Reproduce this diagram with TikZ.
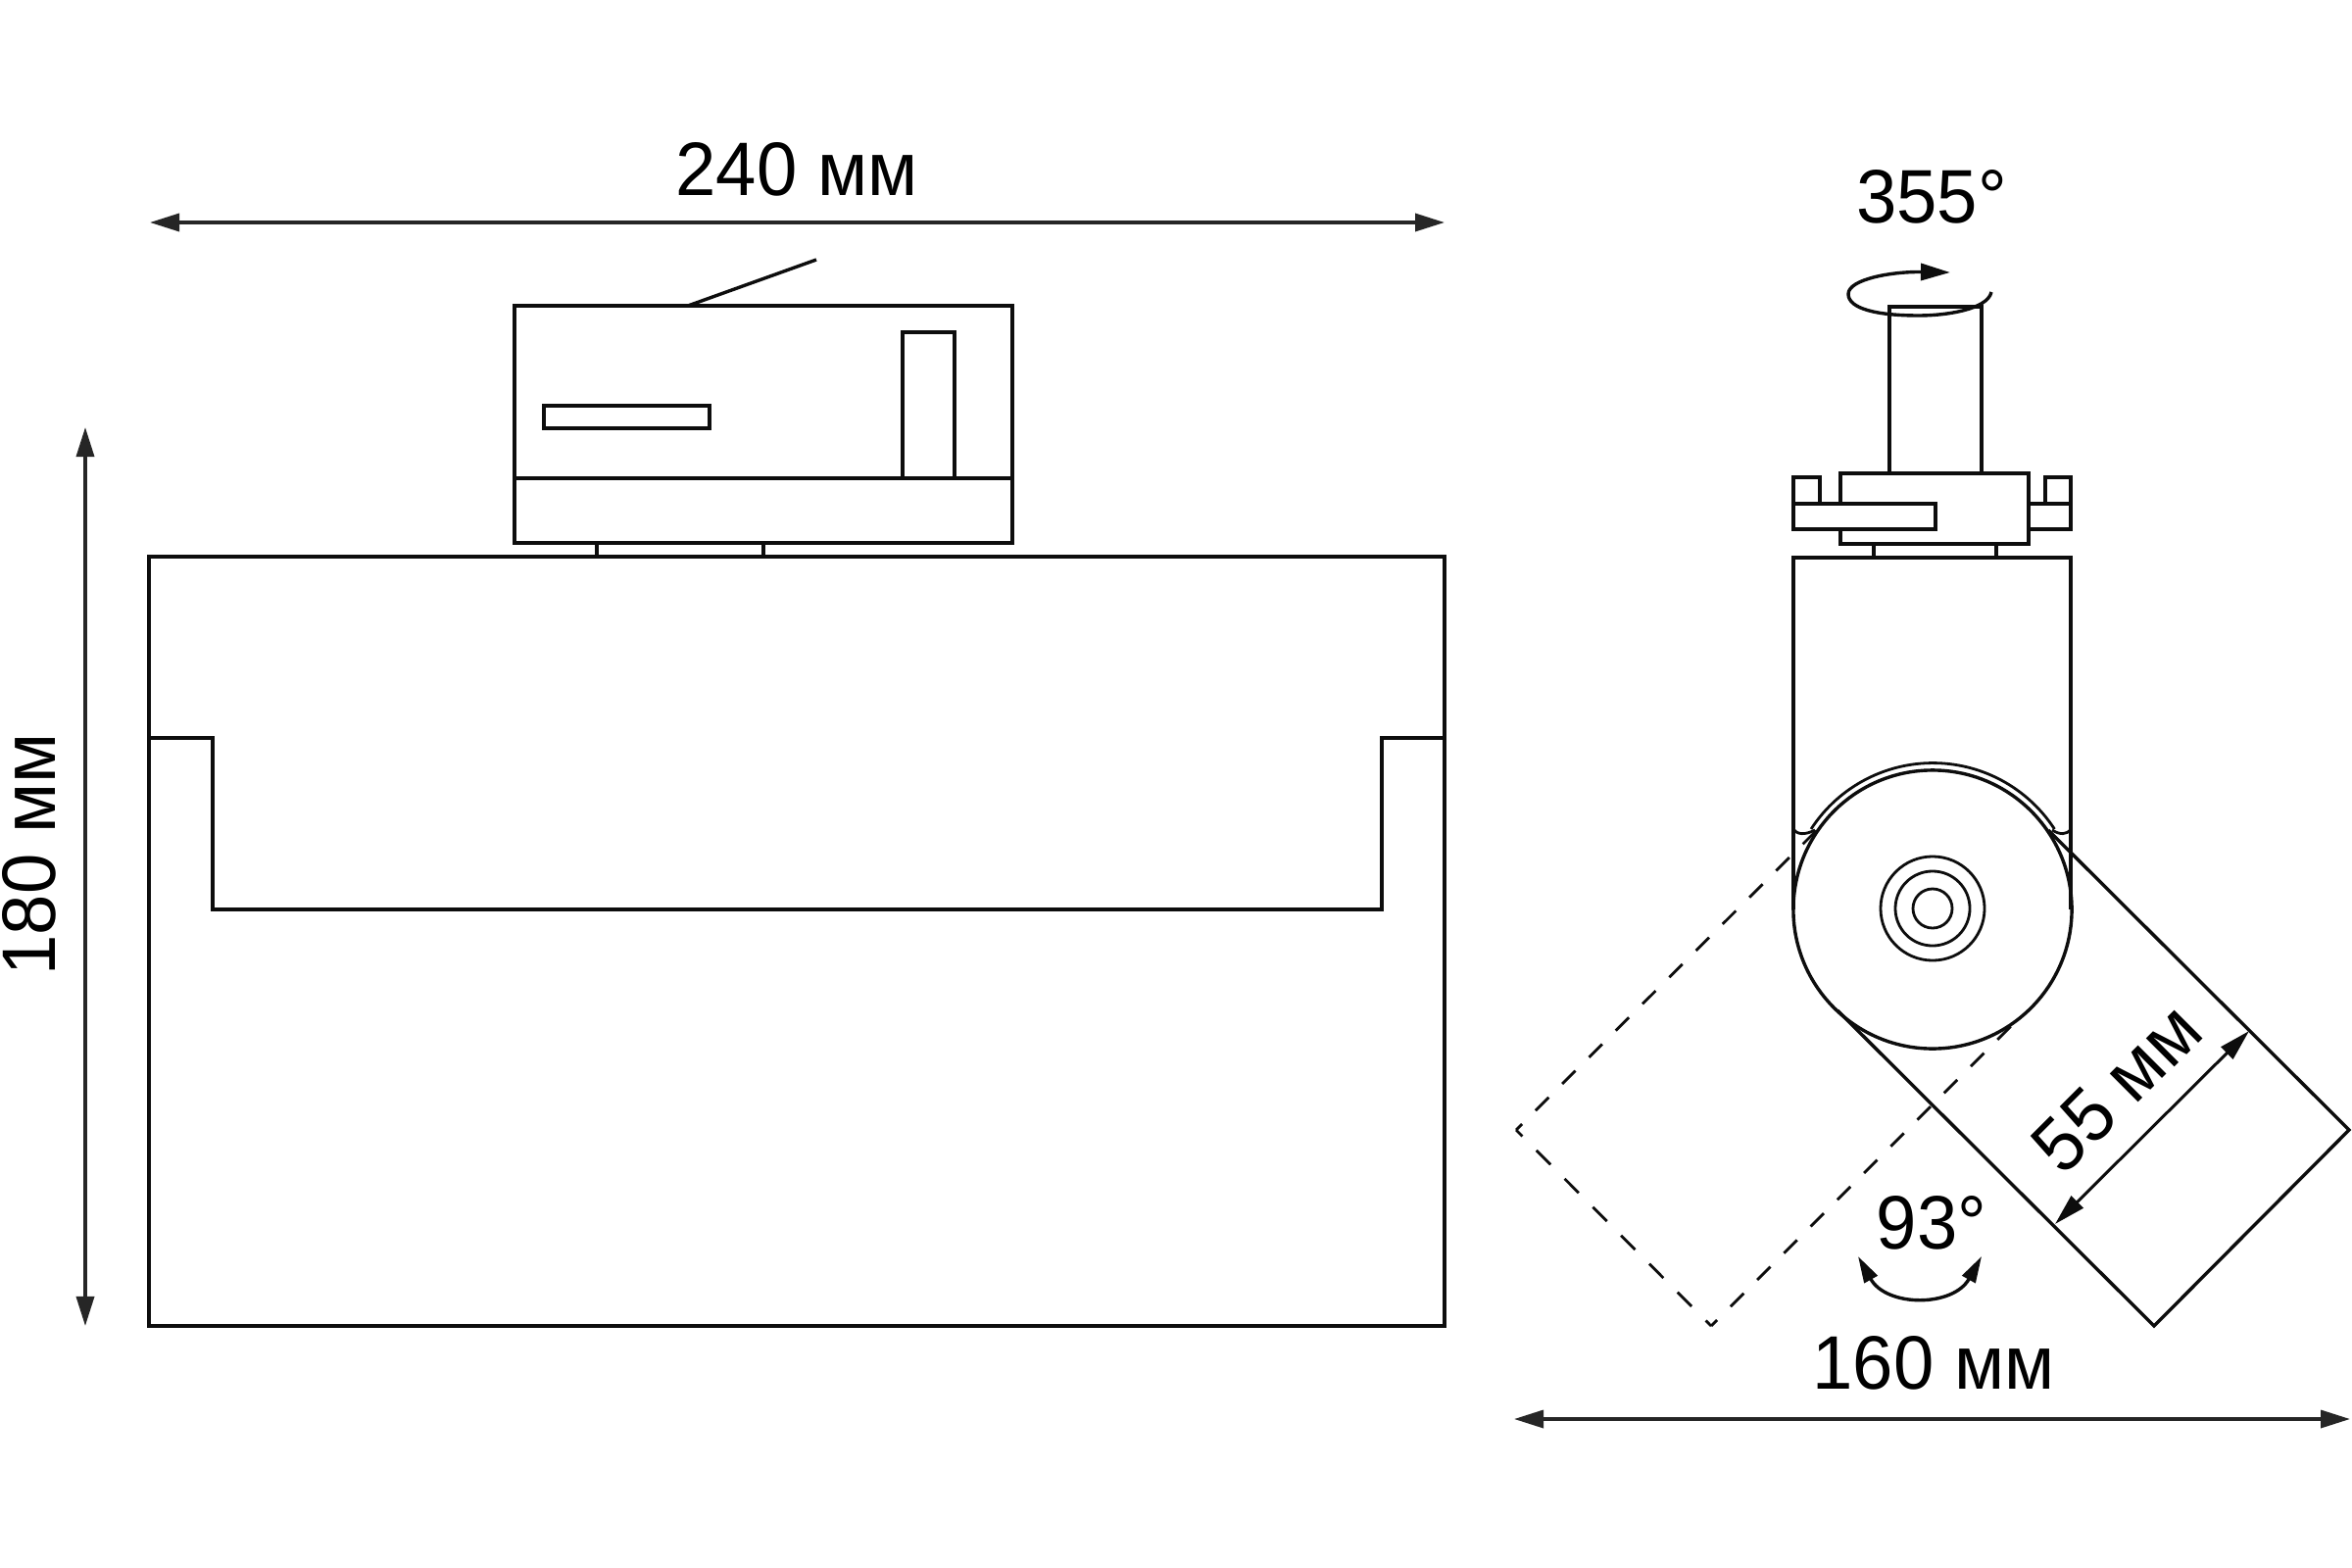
\documentclass[tikz,border=0pt]{standalone}
\usepackage{fontspec}
\setmainfont{Liberation Sans}
\usetikzlibrary{arrows.meta}
\tikzset{
  lbl/.style={font=\fontsize{22pt}{22pt}\selectfont,inner sep=0pt,text=black,xscale=0.96},
  part/.style={line width=0.034cm,draw=black!95,line join=miter},
  thin part/.style={line width=0.028cm,draw=black!95},
  hidden part/.style={line width=0.028cm,draw=black!95,dash pattern=on 0.19cm off 0.195cm,dash phase=0.105cm},
  dimline/.style={line width=0.034cm,draw=black!85,{Triangle[length=0.3cm,width=0.18cm]}-{Triangle[length=0.3cm,width=0.18cm]}},
  smalldim/.style={line width=0.03cm,draw=black!95,{Triangle[length=0.32cm,width=0.17cm]}-{Triangle[length=0.32cm,width=0.17cm]}},
}
\begin{document}
\begin{tikzpicture}[x=0.01cm,y=-0.01cm]
\useasboundingbox (0,0) rectangle (2400,1600);
\fill[white] (0,0) rectangle (2400,1600);

% --- front view ---
\draw[part] (152,568) rectangle (1474,1353);
\draw[part] (152,753) -- (217,753) -- (217,928) -- (1410,928) -- (1410,753) -- (1474,753);
\draw[part] (525,312) rectangle (1033,554);
\draw[part] (525,488) -- (1033,488);
\draw[part] (555,414) rectangle (724,437);
\draw[part] (921,488) -- (921,339) -- (974,339) -- (974,488);
\draw[part] (609,554) -- (609,568) (779,554) -- (779,568);
\draw[part] (702,312) -- (833,265);

% --- side view: top ---
\draw[part] (1928,483) -- (1928,313) -- (2022,313) -- (2022,483);
\draw[part] (1878,483) rectangle (2070,555);
\draw[part] (1830,514) -- (1830,487) -- (1857,487) -- (1857,514);
\draw[part,fill=white] (1830,514) rectangle (1975,540);
\draw[part] (2087,514) -- (2087,487) -- (2113,487) -- (2113,514);
\draw[part] (2070,514) rectangle (2113,540);
\draw[part] (1912,555) -- (1912,569) (2037,555) -- (2037,569);

% --- side view: housing ---
\draw[part] (1830,928) -- (1830,569) -- (2113,569) -- (2113,928);
\draw[thin part] (1830,846) .. controls (1834,852) and (1842,852) .. (1852,847);
\draw[thin part] (2094,847) .. controls (2102,852) and (2109,852) .. (2113,846);
\draw[part] (1972,928) circle[radius=1.42cm];
\draw[thin part] (1848,846) arc[start angle=147,end angle=33,radius=1.48cm];
\draw[thin part] (1972,927) circle[radius=0.53cm];
\draw[thin part] (1972,927) circle[radius=0.38cm];
\draw[thin part] (1972,927) circle[radius=0.20cm];

% --- side view: solid tilted head ---
\coordinate (sR) at (2397,1153);
\coordinate (sB) at (2198,1353);
\draw[part] (2090,847) -- (sR) -- (sB) -- (1875,1031);

% --- side view: dashed tilted head ---
\coordinate (dL) at (1547,1153);
\coordinate (dB) at (1746,1353);
\draw[hidden part] (dL) -- (1854,847);
\draw[hidden part] (dB) -- (2054,1045);
\draw[hidden part,dash pattern=on 0.204cm off 0.204cm,dash phase=0.114cm] (dL) -- (dB);

% --- rotation arrow ---
\coordinate (rotA) at (2032,298);
\coordinate (rotB) at (1990,278);
\draw[part,-{Triangle[length=0.3cm,width=0.17cm]}] (rotA)
  .. controls (2028,316) and (1985,322) .. (1958,322)
  .. controls (1915,322) and (1886,315) .. (1886,300)
  .. controls (1886,285) and (1930,277) .. (rotB);

% --- dimensions ---
\coordinate (a240l) at (153,227);
\coordinate (a240r) at (1474,227);
\draw[dimline] (a240l) -- (a240r);
\node[lbl] (t240) at (813,173) {240 мм};

\coordinate (a180t) at (87,436);
\coordinate (a180b) at (87,1353);
\draw[dimline] (a180t) -- (a180b);
\node[rotate=90,lbl] (t180) at (30,872) {180 мм};

\coordinate (a160l) at (1545,1448);
\coordinate (a160r) at (2398,1448);
\draw[dimline] (a160l) -- (a160r);
\node[lbl] (t160) at (1973,1391) {160 мм};

\coordinate (a55a) at (2295,1052);
\coordinate (a55b) at (2097,1249);
\draw[smalldim] (a55a) -- (a55b);
\node[rotate=45,lbl] (t55) at (2160,1110) {55 мм};

\coordinate (a93l) at (1896,1282);
\coordinate (a93r) at (2022,1282);
\draw[part,{Triangle[length=0.27cm,width=0.15cm]}-{Triangle[length=0.27cm,width=0.15cm]}] (a93l)
  .. controls (1925,1334) and (1993,1334) .. (a93r);
\node[lbl] (t93) at (1971,1248) {93°};

\node[lbl] (t355) at (1971,201) {355°};
\end{tikzpicture}
\end{document}
